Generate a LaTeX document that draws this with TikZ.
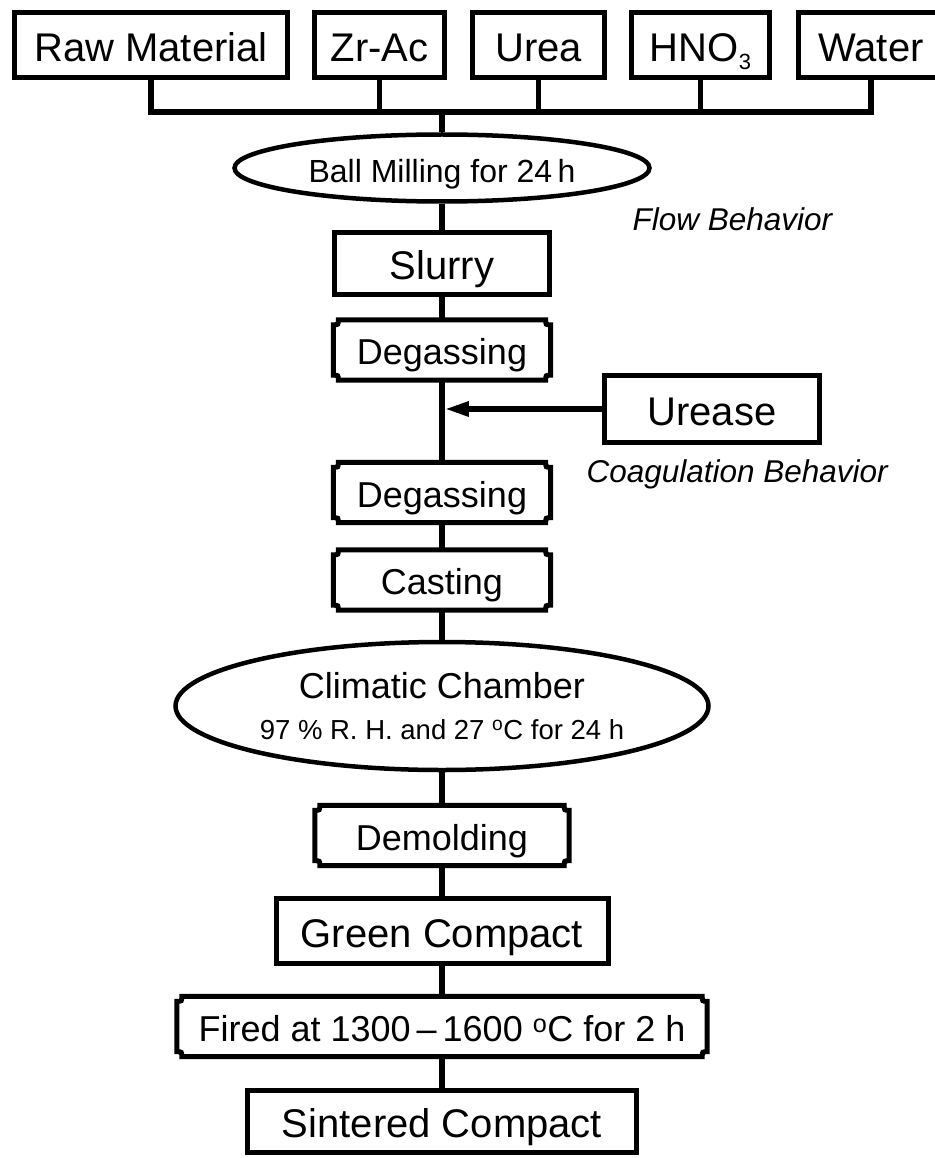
\documentclass[tikz,border=0pt]{standalone}
\usepackage{fontspec}
\setmainfont{Liberation Sans}
\usepackage{tikz}
\usetikzlibrary{shapes.geometric, positioning, arrows.meta}

\tikzset{
  frame/.style={line width=5pt, line join=miter},
  box/.style={draw, frame, rectangle, inner sep=0pt, text height=32.6pt, text depth=0pt,
    font=\fontsize{40}{44}\selectfont},
  stage/.style={rectangle, inner sep=0pt, text height=29.8pt, text depth=0pt,
    font=\fontsize{36}{40}\selectfont},
  oval/.style={draw, ellipse, line width=4.5pt, inner sep=0pt},
  remark/.style={anchor=base west, font=\itshape\fontsize{31.5}{34}\selectfont},
  link/.style={line width=5.5pt},
}

% box outline with small hollow corners
\newcommand{\notchframe}[1]{%
  \draw[frame] ([xshift=5pt]#1.north west) -- ([xshift=-5pt]#1.north east)
    .. controls ([xshift=-5pt,yshift=-5pt]#1.north east) .. ([yshift=-5pt]#1.north east)
    -- ([yshift=5pt]#1.south east)
    .. controls ([xshift=-5pt,yshift=5pt]#1.south east) .. ([xshift=-5pt]#1.south east)
    -- ([xshift=5pt]#1.south west)
    .. controls ([xshift=5pt,yshift=5pt]#1.south west) .. ([yshift=5pt]#1.south west)
    -- ([yshift=-5pt]#1.north west)
    .. controls ([xshift=5pt,yshift=-5pt]#1.north west) .. ([xshift=5pt]#1.north west)
    -- cycle;}

\begin{document}
\begin{tikzpicture}[x=1pt, y=-1pt, on grid]
  \useasboundingbox (0,0) rectangle (934,1158);

  % ingredients
  \node[box, minimum width=273pt, minimum height=65pt] (raw)   at (151,45)   {Raw Material};
  \node[box, minimum width=130pt, minimum height=65pt] (zrac)  at (379.5,45) {Zr-Ac};
  \node[box, minimum width=132pt, minimum height=65pt] (urea)  at (538.5,45) {Urea};
  \node[box, minimum width=138pt, minimum height=65pt] (hno3)  at (700.5,45) {HNO\raisebox{-8pt}{\fontsize{22}{22}\selectfont 3}};
  \node[box, minimum width=145pt, minimum height=65pt] (water) at (871,45)   {Water};
  \coordinate (bus) at (442,112);

  % process chain
  \node[oval, minimum width=415pt, minimum height=67pt, text height=30pt, text depth=0pt,
        font=\fontsize{32}{34}\selectfont] (ball) at (442,168) {Ball Milling for 24\,h};
  \node[box, minimum width=215pt, minimum height=62pt] (slurry) [below=95.5pt of ball] {Slurry};
  \node[stage, minimum width=217pt, minimum height=60pt] (degasA) [below=86.5pt of slurry] {Degassing};
  \node[stage, minimum width=217pt, minimum height=60pt] (degasB) [below=142.5pt of degasA] {Degassing};
  \node[stage, minimum width=217pt, minimum height=60pt] (cast) [below=87.5pt of degasB] {Casting};
  \node[oval, minimum width=533pt, minimum height=128pt, align=center,
        font=\fontsize{36}{41}\selectfont] (climate) [below=126pt of cast]
        {Climatic Chamber\\{\fontsize{27.5}{41}\selectfont 97 \% R. H. and 27 \textsuperscript{o}C for 24 h}};
  \node[stage, minimum width=254pt, minimum height=60pt] (demold) [below=129.5pt of climate] {Demolding};
  \node[box, minimum width=332pt, minimum height=65pt] (green) [below=95.5pt of demold] {Green Compact};
  \node[stage, minimum width=530pt, minimum height=60pt, text height=29.5pt,
        font=\fontsize{36}{40}\selectfont] (fired) [below=95.5pt of green]
        {Fired at 1300\,--\,1600 \textsuperscript{o}C for 2 h};
  \node[box, minimum width=389pt, minimum height=62pt] (sintered) [below=95pt of fired] {Sintered Compact};

  % urease feed
  \node[box, minimum width=215pt, minimum height=67pt] (urease) at (712,409) {Urease};
  \coordinate (inlet) at (444.75,409);

  % notes
  \node[remark] (flow) at (629,230) {Flow Behavior};
  \node[remark] (coag) at (583,482) {Coagulation Behavior};

  \foreach \n in {degasA,degasB,cast,demold,fired} \notchframe{\n};

  \draw[link] (raw.south) -- (raw.south |- bus) -- (water.south |- bus) -- (water.south);
  \foreach \n in {zrac,urea,hno3} \draw[link] (\n.south) -- (\n.south |- bus);
  \draw[link] (bus) -- (ball);
  \foreach \a/\b in {ball/slurry, slurry/degasA, degasA/degasB, degasB/cast, cast/climate,
                     climate/demold, demold/green, green/fired, fired/sintered}
    \draw[link] (\a) -- (\b);
  \draw[link, -{Triangle[length=24pt, width=14pt]}] (urease) -- (inlet);
\end{tikzpicture}
\end{document}
